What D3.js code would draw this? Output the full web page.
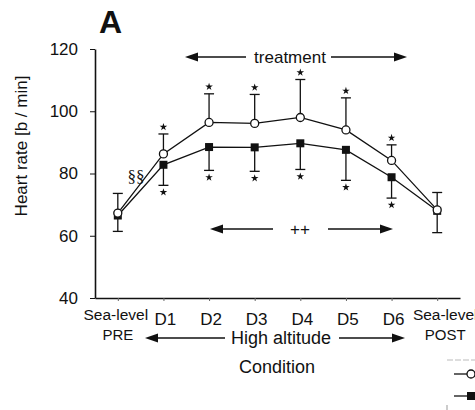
<!DOCTYPE html>
<html>
<head>
<meta charset="utf-8">
<script src="https://cdn.jsdelivr.net/npm/d3@7"></script>
<style>
  body { margin: 0; background: #fff; }
  svg { display: block; font-family: "Liberation Sans", Arial, sans-serif; }
  text { fill: #111; }
</style>
</head>
<body>
<svg id="chart" width="475" height="410"></svg>
<script>
// Conditions along the x axis
const conditions = ["PRE", "D1", "D2", "D3", "D4", "D5", "D6", "POST"];
const labelTop = ["Sea-level", "D1", "D2", "D3", "D4", "D5", "D6", "Sea-level"];
const labelBottom = ["PRE", "", "", "", "", "", "", "POST"];

// Open circles: mean heart rate and upward SD
const openMean = [67.3, 86.3, 96.4, 96.1, 98.0, 94.0, 84.2, 68.3];
const openSD = [6.3, 6.4, 9.2, 9.3, 12.2, 10.3, 5.0, 5.6];
// Filled squares: mean heart rate and downward SD
const filledMean = [66.5, 82.8, 88.5, 88.4, 89.7, 87.6, 78.8, 68.0];
const filledSD = [5.1, 6.6, 7.5, 7.7, 8.4, 9.8, 6.7, 7.0];
// Significance star vs sea-level
const signif = [false, true, true, true, true, true, true, false];

const yTicks = [40, 60, 80, 100, 120];

const svg = d3.select("#chart");
const ink = "#111";

const x = d3.scalePoint().domain(conditions).range([95, 460]).padding(0.5);
const y = d3.scaleLinear().domain([40, 120]).range([298, 49]);

// Y axis
const yAxis = svg.append("g")
    .attr("transform", "translate(95,0)")
    .call(d3.axisLeft(y).tickValues(yTicks).tickSize(5).tickPadding(12).tickSizeOuter(0));
yAxis.select(".domain").attr("stroke", ink).attr("stroke-width", 1.6);
yAxis.selectAll(".tick line").attr("stroke", ink);
yAxis.selectAll(".tick text")
    .style("font-size", "17px")
    .style("font-family", "Liberation Sans, Arial, sans-serif");

// X axis (short ticks, labels drawn separately)
const xAxis = svg.append("g")
    .attr("transform", "translate(0,298)")
    .call(d3.axisBottom(x).tickSize(3).tickSizeOuter(0).tickFormat(""));
xAxis.select(".domain").attr("stroke", ink).attr("stroke-width", 1.4);
xAxis.selectAll(".tick line").attr("stroke", "#666");

// X labels
const xl = svg.append("g");
conditions.forEach((c, i) => {
    const isSea = labelBottom[i] !== "";
    const cx = x(c) + (i === 0 ? -2 : i === conditions.length - 1 ? 8 : 2);
    xl.append("text")
        .attr("x", cx)
        .attr("y", isSea ? 320 : 325)
        .attr("text-anchor", "middle")
        .style("font-size", isSea ? "15.5px" : "17px")
        .text(labelTop[i]);
    if (isSea) {
        xl.append("text")
            .attr("x", cx + (i === 0 ? 2 : 0))
            .attr("y", 340)
            .attr("text-anchor", "middle")
            .style("font-size", "15px")
            .text(labelBottom[i]);
    }
});

// Panel letter and titles
svg.append("text").attr("x", 99).attr("y", 33)
    .style("font-size", "32px").style("font-weight", "bold").text("A");

svg.append("text")
    .attr("transform", "translate(27,146) rotate(-90)")
    .attr("text-anchor", "middle")
    .style("font-size", "17px")
    .text("Heart rate [b / min]");

svg.append("text").attr("x", 277).attr("y", 373).attr("text-anchor", "middle")
    .style("font-size", "18px").text("Condition");

// Arrows helper: line ending in a filled triangle at (x2, yy)
function arrow(x1, x2, yy) {
    const dir = x2 > x1 ? 1 : -1;
    svg.append("line")
        .attr("x1", x1).attr("x2", x2 - dir * 10)
        .attr("y1", yy).attr("y2", yy)
        .attr("stroke", ink).attr("stroke-width", 1.3);
    svg.append("path")
        .attr("d", `M${x2},${yy} L${x2 - dir * 13},${yy - 4.5} L${x2 - dir * 13},${yy + 4.5} Z`)
        .attr("fill", ink);
}

// treatment
arrow(246, 185, 57);
arrow(331, 407, 57);
svg.append("text").attr("x", 290).attr("y", 63).attr("text-anchor", "middle")
    .style("font-size", "17px").text("treatment");

// ++
arrow(273, 210, 229);
arrow(328, 393, 229);
svg.append("text").attr("x", 300).attr("y", 235).attr("text-anchor", "middle")
    .style("font-size", "17px").style("fill", ink).text("++");

// High altitude
arrow(225, 145, 338);
arrow(339, 405, 338);
svg.append("text").attr("x", 281).attr("y", 344).attr("text-anchor", "middle")
    .style("font-size", "18px").text("High altitude");

// §§
svg.append("text").attr("x", 136).attr("y", 182).attr("text-anchor", "middle")
    .style("font-size", "17px").style("font-family", "Liberation Serif, serif")
    .style("fill", ink).text("§§");

// Data layer
const plot = svg.append("g");
const star = d3.symbol(d3.symbolStar, 18);
const cap = 5;

function errorBars(means, sds, dir) {
    conditions.forEach((c, i) => {
        const ye = y(means[i] + dir * sds[i]);
        plot.append("line")
            .attr("x1", x(c)).attr("x2", x(c))
            .attr("y1", y(means[i])).attr("y2", ye)
            .attr("stroke", ink).attr("stroke-width", 1.3);
        plot.append("line")
            .attr("x1", x(c) - cap).attr("x2", x(c) + cap)
            .attr("y1", ye).attr("y2", ye)
            .attr("stroke", ink).attr("stroke-width", 1.3);
        if (signif[i]) {
            plot.append("path")
                .attr("d", star)
                .attr("transform", `translate(${x(c)},${ye - dir * 7})`)
                .attr("fill", ink);
        }
    });
}

errorBars(openMean, openSD, 1);
errorBars(filledMean, filledSD, -1);

const line = d3.line().x((d, i) => x(conditions[i])).y(d => y(d));
plot.append("path").datum(filledMean).attr("d", line)
    .attr("fill", "none").attr("stroke", ink).attr("stroke-width", 1.3);
plot.append("path").datum(openMean).attr("d", line)
    .attr("fill", "none").attr("stroke", ink).attr("stroke-width", 1.3);

plot.selectAll(".sq").data(filledMean).join("rect")
    .attr("x", (d, i) => x(conditions[i]) - 4)
    .attr("y", d => y(d) - 4)
    .attr("width", 8).attr("height", 8)
    .attr("fill", ink);

plot.selectAll(".ci").data(openMean).join("circle")
    .attr("cx", (d, i) => x(conditions[i]))
    .attr("cy", d => y(d))
    .attr("r", 4)
    .attr("fill", "#fff").attr("stroke", ink).attr("stroke-width", 1.3);

// Legend (cut off at the right edge)
const leg = svg.append("g");
leg.append("line").attr("x1", 447).attr("x2", 475).attr("y1", 360).attr("y2", 360)
    .attr("stroke", "#bbb").attr("stroke-dasharray", "6,2");
leg.append("line").attr("x1", 454).attr("x2", 475).attr("y1", 374).attr("y2", 374)
    .attr("stroke", ink).attr("stroke-width", 1.3);
leg.append("circle").attr("cx", 471).attr("cy", 374).attr("r", 4)
    .attr("fill", "#fff").attr("stroke", ink).attr("stroke-width", 1.3);
leg.append("line").attr("x1", 454).attr("x2", 475).attr("y1", 396).attr("y2", 396)
    .attr("stroke", ink).attr("stroke-width", 1.3);
leg.append("rect").attr("x", 467).attr("y", 392).attr("width", 8).attr("height", 8)
    .attr("fill", ink);
leg.append("line").attr("x1", 447).attr("x2", 447).attr("y1", 405).attr("y2", 410)
    .attr("stroke", "#999");
</script>
</body>
</html>
